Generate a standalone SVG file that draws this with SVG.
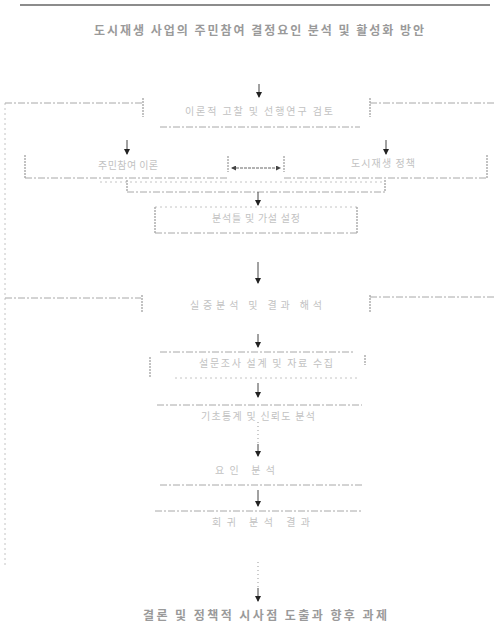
<svg xmlns="http://www.w3.org/2000/svg" width="499" height="642" viewBox="0 0 499 642">
<style>
.ln{stroke:#a8a8a8;stroke-width:1;fill:none;stroke-dasharray:7 2 2 2}
.fl{stroke:#c4c4c4;stroke-width:1;fill:none;stroke-dasharray:2 3}
.tk{stroke:#9a9a9a;stroke-width:1.2;fill:none;stroke-dasharray:2 1}
.ar{stroke:#444;stroke-width:1;fill:none;marker-end:url(#ah)}
.dt{stroke:#999;stroke-width:1;fill:none;stroke-dasharray:1 3}
.t{font-family:"Noto Sans CJK KR","Noto Sans",sans-serif;font-size:10px;fill:#c2c2c2;text-anchor:middle}
.h{font-family:"Noto Sans CJK KR","Noto Sans",sans-serif;font-size:12px;fill:#9a9a9a;text-anchor:middle;font-weight:bold}
</style>
<defs>
<marker id="ah" markerWidth="6" markerHeight="8" refX="5" refY="3" orient="auto" markerUnits="userSpaceOnUse" viewBox="0 0 6 6">
<path d="M0,0 L6,3 L0,6 Z" fill="#222"/>
</marker>
<marker id="ahs" markerWidth="5" markerHeight="5" refX="4" refY="2.5" orient="auto-start-reverse" markerUnits="userSpaceOnUse" viewBox="0 0 5 5">
<path d="M0,0 L5,2.5 L0,5 Z" fill="#444"/>
</marker>
</defs>
<rect width="499" height="642" fill="#fff"/>
<line x1="20" y1="5" x2="490" y2="5" stroke="#666" stroke-width="1.5"/>
<line x1="5" y1="103" x2="5" y2="565" class="fl"/>

<g id="n_title"><text class="h" x="259" y="35" textLength="330" lengthAdjust="spacing">도시재생 사업의 주민참여 결정요인 분석 및 활성화 방안</text></g>

<g id="n_theory">
<line x1="5" y1="103" x2="143" y2="103" class="ln"/>
<line x1="143" y1="98" x2="143" y2="117" class="tk"/>
<line x1="370" y1="98" x2="370" y2="117" class="tk"/>
<line x1="370" y1="103" x2="495" y2="103" class="ln"/>
<line x1="160" y1="127" x2="360" y2="127" class="ln"/>
<text class="t" x="259" y="115" textLength="148" lengthAdjust="spacing">이론적 고찰 및 선행연구 검토</text>
</g>

<g id="n_left">
<line x1="25" y1="155" x2="25" y2="178" class="tk"/>
<line x1="25" y1="178" x2="228" y2="178" class="ln"/>
<line x1="228" y1="156" x2="228" y2="172" class="tk"/>
<text class="t" x="128" y="169" textLength="60" lengthAdjust="spacing">주민참여 이론</text>
</g>

<g id="n_right">
<line x1="284" y1="156" x2="284" y2="172" class="tk"/>
<line x1="487" y1="155" x2="487" y2="178" class="tk"/>
<line x1="284" y1="178" x2="487" y2="178" class="ln"/>
<text class="t" x="383" y="167" textLength="64" lengthAdjust="spacing">도시재생 정책</text>
</g>

<g id="n_frame">
<line x1="155" y1="207" x2="358" y2="207" class="fl"/>
<line x1="155" y1="207" x2="155" y2="233" class="tk"/>
<line x1="357" y1="207" x2="357" y2="233" class="tk"/>
<line x1="155" y1="233" x2="358" y2="233" class="ln"/>
<text class="t" x="256" y="222" textLength="88" lengthAdjust="spacing">분석틀 및 가설 설정</text>
</g>

<g id="n_analysis">
<line x1="5" y1="298" x2="141" y2="298" class="ln"/>
<line x1="142" y1="295" x2="142" y2="313" class="tk"/>
<line x1="370" y1="295" x2="370" y2="313" class="tk"/>
<line x1="370" y1="297" x2="495" y2="297" class="ln"/>
<text class="t" x="256" y="309" textLength="132" lengthAdjust="spacing">실증분석 및 결과 해석</text>
</g>

<g id="n_survey">
<line x1="160" y1="352" x2="355" y2="352" class="ln"/>
<line x1="150" y1="357" x2="150" y2="378" class="tk"/>
<line x1="365" y1="355" x2="365" y2="365" class="tk"/>
<line x1="175" y1="378" x2="360" y2="378" class="fl"/>
<text class="t" x="266" y="367" textLength="134" lengthAdjust="spacing">설문조사 설계 및 자료 수집</text>
</g>

<g id="n_stats">
<line x1="157" y1="405" x2="362" y2="405" class="ln"/>
<text class="t" x="258" y="420" textLength="114" lengthAdjust="spacing">기초통계 및 신뢰도 분석</text>
</g>

<g id="n_factor">
<text class="t" x="245" y="474" textLength="60" lengthAdjust="spacing">요인 분석</text>
<line x1="160" y1="485" x2="362" y2="485" class="ln"/>
</g>

<g id="n_reg">
<line x1="155" y1="511" x2="362" y2="511" class="ln"/>
<text class="t" x="261" y="526" textLength="98" lengthAdjust="spacing">회귀 분석 결과</text>
</g>

<g id="n_concl"><text class="h" x="265" y="620" textLength="244" lengthAdjust="spacing">결론 및 정책적 시사점 도출과 향후 과제</text></g>

<g id="connectors">
<line x1="259" y1="84" x2="259" y2="97" class="ar"/>
<line x1="127" y1="140" x2="127" y2="154" class="ar"/>
<line x1="386" y1="140" x2="386" y2="154" class="ar"/>
<line x1="232" y1="168" x2="280" y2="168" stroke="#666" stroke-width="1" stroke-dasharray="3 1" marker-start="url(#ahs)" marker-end="url(#ahs)"/>
<line x1="100" y1="182" x2="385" y2="182" class="fl"/>
<line x1="127" y1="180" x2="127" y2="192" class="tk"/>
<line x1="385" y1="180" x2="385" y2="192" class="tk"/>
<line x1="127" y1="192" x2="385" y2="192" class="ln"/>
<line x1="258" y1="192" x2="258" y2="205" class="ar"/>
<line x1="258" y1="262" x2="258" y2="283" class="ar"/>
<line x1="258" y1="334" x2="258" y2="347" class="ar"/>
<line x1="258" y1="383" x2="258" y2="397" class="ar"/>
<line x1="258" y1="422" x2="258" y2="444" class="dt"/>
<line x1="258" y1="444" x2="258" y2="456" class="ar"/>
<line x1="258" y1="490" x2="258" y2="506" class="ar"/>
<line x1="258" y1="562" x2="258" y2="588" class="dt"/>
<line x1="258" y1="588" x2="258" y2="601" class="ar"/>
</g>
</svg>
